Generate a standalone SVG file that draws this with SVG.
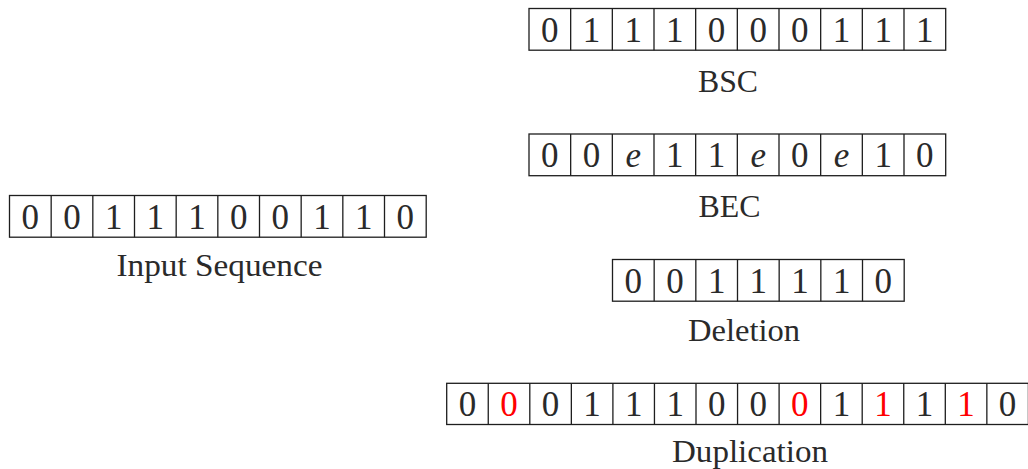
<svg xmlns="http://www.w3.org/2000/svg" width="1028" height="469" viewBox="0 0 1028 469">
  <style>
    .box { fill: #ffffff; stroke: #1e1e1e; stroke-width: 1.3; }
    .div { fill: none; stroke: #1e1e1e; stroke-width: 1.3; }
    .bit { font-family: "Liberation Serif", "DejaVu Serif", serif; font-size: 35px; fill: #2a2a2a; text-anchor: middle; }
    .sym { font-style: italic; }
    .flip { fill: #ff0000; }
    .label { font-family: "Liberation Serif", "DejaVu Serif", serif; font-size: 32px; fill: #2a2a2a; text-anchor: middle; }
  </style>

  <rect width="1028" height="469" fill="#ffffff"/>

  <!-- transmitted word -->
  <g id="input">
    <g transform="translate(9.5,195.5)">
      <rect class="box" x="0" y="0" width="416.7" height="41.7"/>
      <path class="div" d="M41.67 0v41.7M83.33 0v41.7M125 0v41.7M166.67 0v41.7M208.33 0v41.7M250 0v41.7M291.67 0v41.7M333.33 0v41.7M375 0v41.7"/>
      <text class="bit" x="20.83" y="33.5">0</text>
      <text class="bit" x="62.5" y="33.5">0</text>
      <text class="bit" x="104.17" y="33.5">1</text>
      <text class="bit" x="145.83" y="33.5">1</text>
      <text class="bit" x="187.5" y="33.5">1</text>
      <text class="bit" x="229.17" y="33.5">0</text>
      <text class="bit" x="270.83" y="33.5">0</text>
      <text class="bit" x="312.5" y="33.5">1</text>
      <text class="bit" x="354.17" y="33.5">1</text>
      <text class="bit" x="395.83" y="33.5">0</text>
    </g>
    <text class="label" x="219.5" y="276" textLength="206" lengthAdjust="spacingAndGlyphs">Input Sequence</text>
  </g>

  <!-- binary symmetric channel output -->
  <g id="bsc">
    <g transform="translate(529,8.5)">
      <rect class="box" x="0" y="0" width="416.7" height="41.7"/>
      <path class="div" d="M41.67 0v41.7M83.33 0v41.7M125 0v41.7M166.67 0v41.7M208.33 0v41.7M250 0v41.7M291.67 0v41.7M333.33 0v41.7M375 0v41.7"/>
      <text class="bit" x="20.83" y="33">0</text>
      <text class="bit" x="62.5" y="33">1</text>
      <text class="bit" x="104.17" y="33">1</text>
      <text class="bit" x="145.83" y="33">1</text>
      <text class="bit" x="187.5" y="33">0</text>
      <text class="bit" x="229.17" y="33">0</text>
      <text class="bit" x="270.83" y="33">0</text>
      <text class="bit" x="312.5" y="33">1</text>
      <text class="bit" x="354.17" y="33">1</text>
      <text class="bit" x="395.83" y="33">1</text>
    </g>
    <text class="label" x="728" y="91.5" textLength="60" lengthAdjust="spacingAndGlyphs">BSC</text>
  </g>

  <!-- binary erasure channel output -->
  <g id="bec">
    <g transform="translate(529,134)">
      <rect class="box" x="0" y="0" width="416.7" height="41.7"/>
      <path class="div" d="M41.67 0v41.7M83.33 0v41.7M125 0v41.7M166.67 0v41.7M208.33 0v41.7M250 0v41.7M291.67 0v41.7M333.33 0v41.7M375 0v41.7"/>
      <text class="bit" x="20.83" y="33">0</text>
      <text class="bit" x="62.5" y="33">0</text>
      <text class="bit sym" x="104.17" y="33">e</text>
      <text class="bit" x="145.83" y="33">1</text>
      <text class="bit" x="187.5" y="33">1</text>
      <text class="bit sym" x="229.17" y="33">e</text>
      <text class="bit" x="270.83" y="33">0</text>
      <text class="bit sym" x="312.5" y="33">e</text>
      <text class="bit" x="354.17" y="33">1</text>
      <text class="bit" x="395.83" y="33">0</text>
    </g>
    <text class="label" x="729.5" y="216.5" textLength="62" lengthAdjust="spacingAndGlyphs">BEC</text>
  </g>

  <!-- deletion channel output -->
  <g id="deletion">
    <g transform="translate(612.5,259.5)">
      <rect class="box" x="0" y="0" width="291.7" height="41.7"/>
      <path class="div" d="M41.67 0v41.7M83.33 0v41.7M125 0v41.7M166.67 0v41.7M208.33 0v41.7M250 0v41.7"/>
      <text class="bit" x="20.83" y="33">0</text>
      <text class="bit" x="62.5" y="33">0</text>
      <text class="bit" x="104.17" y="33">1</text>
      <text class="bit" x="145.83" y="33">1</text>
      <text class="bit" x="187.5" y="33">1</text>
      <text class="bit" x="229.17" y="33">1</text>
      <text class="bit" x="270.83" y="33">0</text>
    </g>
    <text class="label" x="744" y="341" textLength="112" lengthAdjust="spacingAndGlyphs">Deletion</text>
  </g>

  <!-- duplication channel output, duplicated bits in red -->
  <g id="duplication">
    <g transform="translate(446.7,383.3)">
      <rect class="box" x="0" y="0" width="581.7" height="41.2"/>
      <path class="div" d="M41.55 0v41.2M83.1 0v41.2M124.65 0v41.2M166.2 0v41.2M207.75 0v41.2M249.3 0v41.2M290.85 0v41.2M332.4 0v41.2M373.95 0v41.2M415.5 0v41.2M457.05 0v41.2M498.6 0v41.2M540.15 0v41.2"/>
      <text class="bit" x="20.78" y="33">0</text>
      <text class="bit flip" x="62.33" y="33">0</text>
      <text class="bit" x="103.88" y="33">0</text>
      <text class="bit" x="145.43" y="33">1</text>
      <text class="bit" x="186.98" y="33">1</text>
      <text class="bit" x="228.53" y="33">1</text>
      <text class="bit" x="270.08" y="33">0</text>
      <text class="bit" x="311.63" y="33">0</text>
      <text class="bit flip" x="353.18" y="33">0</text>
      <text class="bit" x="394.73" y="33">1</text>
      <text class="bit flip" x="436.28" y="33">1</text>
      <text class="bit" x="477.83" y="33">1</text>
      <text class="bit flip" x="519.38" y="33">1</text>
      <text class="bit" x="560.93" y="33">0</text>
    </g>
    <text class="label" x="750" y="462" textLength="156" lengthAdjust="spacingAndGlyphs">Duplication</text>
  </g>

  <!-- no connectors are drawn between the sequences -->
  <g id="connectors"/>
</svg>
